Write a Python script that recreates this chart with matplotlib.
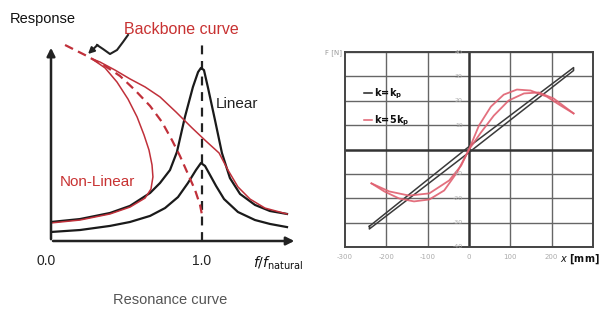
import matplotlib
matplotlib.use("Agg")
import matplotlib.pyplot as plt
from matplotlib.lines import Line2D
from matplotlib.patches import FancyArrowPatch

W, H = 603, 321

# ---------------- Left panel data (frequency ratio, normalised response) -------------
lin_high_x = [0, 0.192, 0.391, 0.523, 0.656, 0.722, 0.788, 0.834, 0.887, 0.940, 0.974, 0.993,
              1.013, 1.040, 1.086, 1.132, 1.185, 1.252, 1.351, 1.450, 1.563]
lin_high_y = [0.097, 0.112, 0.143, 0.179, 0.245, 0.296, 0.362, 0.454, 0.633, 0.786, 0.862, 0.883,
              0.872, 0.781, 0.617, 0.449, 0.321, 0.240, 0.184, 0.153, 0.138]

lin_low_x = [0, 0.192, 0.391, 0.523, 0.656, 0.755, 0.841, 0.907, 0.960, 0.993, 1.020, 1.053,
             1.093, 1.146, 1.238, 1.351, 1.450, 1.563]
lin_low_y = [0.046, 0.056, 0.077, 0.097, 0.128, 0.168, 0.224, 0.296, 0.362, 0.398, 0.383, 0.337,
             0.281, 0.214, 0.148, 0.107, 0.087, 0.071]

nonlin_x = [0, 0.192, 0.391, 0.523, 0.623, 0.662, 0.675, 0.669, 0.649, 0.616, 0.570, 0.510,
            0.437, 0.358, 0.272, 0.325, 0.424, 0.523, 0.623, 0.722, 0.828, 0.934, 1.026,
            1.113, 1.172, 1.238, 1.318, 1.417, 1.563]
nonlin_y = [0.092, 0.107, 0.138, 0.173, 0.219, 0.265, 0.327, 0.388, 0.464, 0.541, 0.633, 0.724,
            0.811, 0.883, 0.929, 0.913, 0.872, 0.827, 0.786, 0.735, 0.658, 0.577, 0.510,
            0.449, 0.362, 0.276, 0.214, 0.168, 0.138]

backbone_x = [0.093, 0.225, 0.358, 0.457, 0.556, 0.656, 0.735, 0.801, 0.854, 0.907, 0.954, 0.987, 1.0]
backbone_y = [1.0, 0.949, 0.893, 0.842, 0.770, 0.689, 0.607, 0.515, 0.434, 0.342, 0.260, 0.184, 0.133]

freq_ticks = [0.0, 1.0]
freq_tick_labels = ["0.0", "1.0"]

# ---------------- Right panel data (displacement mm, force N) -------------
lin_loop_x = [-241, 0, 253, 253, 0, -241, -241]
lin_loop_y = [-31.5, 1.2, 33.6, 32.4, -1.2, -32.6, -31.5]

red_up_x = [-236, -193, -145, -96, -48, -19, 0, 24, 53, 84, 116, 149, 188, 222, 253]
red_up_y = [-13.9, -17.2, -18.9, -18.0, -12.7, -6.6, 0, 9.8, 17.6, 22.5, 24.6, 24.2, 21.7, 18.0, 14.8]
red_dn_x = [253, 205, 169, 133, 96, 60, 29, 0, -29, -60, -96, -133, -169, -205, -236]
red_dn_y = [14.8, 20.9, 23.4, 23.0, 20.1, 13.9, 7.0, 0, -9.4, -16.8, -20.5, -21.3, -20.1, -17.2, -13.9]

disp_ticks = [-300, -200, -100, 0, 100, 200]
force_ticks = [40, 30, 20, 10, -10, -20, -30, -40]

# ---------------- Figure -------------
fig = plt.figure(figsize=(W / 100, H / 100), dpi=100)
fig.patch.set_facecolor("white")

def fx(x):
    return x / W

def fy(y):
    return 1 - y / H

narrow = ["Liberation Sans Narrow", "Liberation Sans", "DejaVu Sans"]

# Left axes
axL = fig.add_axes([fx(51), fy(241), fx(297) - fx(51), fy(40) - fy(241)])
axL.set_xlim(0, 246 / 151)
axL.set_ylim(0, 201 / 196)
axL.axis("off")

axL.plot([1.0, 1.0], [0, 1.0], color="#222222", lw=1.6, ls=(0, (4, 3)))
axL.plot(lin_low_x, lin_low_y, color="#1a1a1a", lw=1.6)
axL.plot(lin_high_x, lin_high_y, color="#1a1a1a", lw=1.6)
axL.plot(nonlin_x, nonlin_y, color="#c0303a", lw=1.1)
axL.plot(backbone_x, backbone_y, color="#c0303a", lw=1.6, ls=(0, (4, 2.5)))

# axes arrows
axL.annotate("", xy=(0, 1.0), xytext=(0, -0.005), xycoords="data",
             arrowprops=dict(arrowstyle="-|>", color="#222222", lw=1.8, mutation_scale=12))
axL.annotate("", xy=(1.63, 0), xytext=(-0.005, 0), xycoords="data",
             arrowprops=dict(arrowstyle="-|>", color="#222222", lw=1.8, mutation_scale=12))

for t, lab in zip(freq_ticks, freq_tick_labels):
    axL.text(t - (0.03 if t == 0 else 0), -0.1, lab, ha="center", va="center",
             fontsize=10, family=narrow, color="#222222")

# squiggle arrow for backbone label
sq_px = [(128, 35), (123, 42), (117, 50), (110, 54), (103, 49), (97, 45)]
fig.add_artist(Line2D([fx(p[0]) for p in sq_px], [fy(p[1]) for p in sq_px],
                      color="#222222", lw=1.5, transform=fig.transFigure,
                      solid_joinstyle="round"))
fig.add_artist(FancyArrowPatch((fx(97.5), fy(45)), (fx(88), fy(54)),
               transform=fig.transFigure, arrowstyle="-|>", mutation_scale=9,
               color="#222222", lw=1.5, shrinkA=0, shrinkB=0))

fig.text(fx(10), fy(19), "Response", fontsize=10.5, family=narrow, color="#111111",
         ha="left", va="center")
fig.text(fx(124), fy(30), "Backbone curve", fontsize=11.5, family=narrow, color="#c83232",
         ha="left", va="center")
fig.text(fx(216), fy(104), "Linear", fontsize=11, family=narrow, color="#222222",
         ha="left", va="center")
fig.text(fx(60), fy(182), "Non-Linear", fontsize=11, family=narrow, color="#c83232",
         ha="left", va="center")
fig.text(fx(253), fy(263), r"$\mathbf{\mathit{f/f}}_{\mathrm{natural}}$", fontsize=10,
         color="#111111", ha="left", va="center")
fig.text(fx(170), fy(300), "Resonance curve", fontsize=10.5, family=narrow, color="#555555",
         ha="center", va="center")

# Right axes
axR = fig.add_axes([fx(345), fy(247), fx(593) - fx(345), fy(52) - fy(247)])
axR.set_xlim(-300, 300)
axR.set_ylim(-40, 40)
for s in axR.spines.values():
    s.set_color("#444444")
    s.set_linewidth(1.4)
for gx in [-200, -100, 100, 200]:
    axR.axvline(gx, color="#666666", lw=1.0, zorder=0)
for gy in force_ticks:
    axR.axhline(gy, color="#666666", lw=1.0, zorder=0)
axR.axvline(0, color="#333333", lw=1.8, zorder=0)
axR.axhline(0, color="#333333", lw=1.8, zorder=0)

axR.plot(lin_loop_x, lin_loop_y, color="#3a3a3a", lw=1.1)
axR.plot(red_up_x, red_up_y, color="#e06070", lw=1.3, alpha=0.9)
axR.plot(red_dn_x, red_dn_y, color="#e06070", lw=1.3, alpha=0.9)

axR.set_xticks(disp_ticks)
axR.set_xticklabels([str(v) for v in disp_ticks], fontsize=5, color="#aaaaaa")
axR.set_yticks([])
axR.tick_params(axis="x", length=0, pad=5)
for gy in force_ticks:
    axR.text(-15, gy, str(gy), fontsize=4.5, color="#aaaaaa", ha="right", va="center")

# legend
axR.plot([-253, -234], [23, 23], color="#222222", lw=1.1)
axR.plot([-253, -234], [11.9, 11.9], color="#e06070", lw=1.1)
axR.text(-230, 23, r"$\mathbf{k\!=\!k_p}$", fontsize=7, color="#111111", va="center")
axR.text(-230, 11.9, r"$\mathbf{k\!=\!5k_p}$", fontsize=7, color="#111111", va="center")

fig.text(fx(342), fy(53), "F [N]", fontsize=5, color="#999999", ha="right", va="center")
fig.text(fx(600), fy(259), r"$x$ [mm]", fontsize=7, fontweight="bold", color="#111111",
         ha="right", va="center")

fig.savefig("out.png", dpi=100, facecolor="white")
